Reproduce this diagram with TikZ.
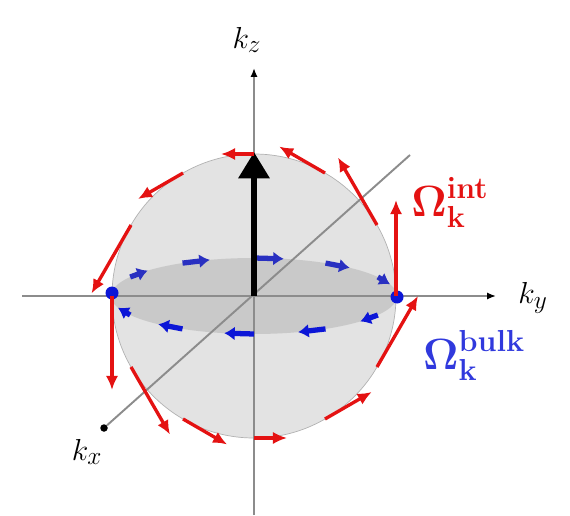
\documentclass[tikz,border=0pt]{standalone}
\usepackage{amsmath}
\usetikzlibrary{arrows.meta, calc}
\definecolor{omred}{RGB}{228,18,18}
\definecolor{omblue}{RGB}{12,22,215}

\begin{document}
\begin{tikzpicture}[x=0.2mm, y=-0.2mm, >=Latex,
    axis/.style={draw=gray!90, line width=1.1pt},
    axtip/.style={-{Latex[length=5pt,width=4pt,black]}},
    redvec/.style={->, omred, line width=1.9pt, >={Latex[length=8pt,width=7pt]}},
    bluevec/.style={->, omblue, line width=3pt, >={Latex[length=6pt,width=8pt]}},
    bdot/.style={circle, fill=omblue, inner sep=0pt, minimum size=2.6mm},
    kdot/.style={circle, fill=black, inner sep=0pt, minimum size=1.5mm},
    lab/.style={font=\fontsize{19}{22}\selectfont},
    omlab/.style={font=\fontsize{25}{30}\selectfont}]
    \useasboundingbox (0,0) rectangle (570,515);
    \coordinate (O) at (254,296);

    % sphere and equatorial disc
    \filldraw[fill=gray!22, draw=gray!60, line width=0.4pt] (O) circle[radius=28.4mm];
    \fill[gray!42] (O) ellipse[x radius=28.6mm, y radius=7.6mm];

    % axes
    \coordinate (kzbot) at (254,515);
    \coordinate (kztop) at (254,68);
    \coordinate (kyleft) at (22,296);
    \coordinate (kyright) at (496,296);
    \coordinate (kxback) at (410,155);
    \node[kdot] (kxfront) at (104,428) {};
    \draw[axis, axtip] (kzbot) -- (kztop);
    \draw[axis, axtip] (kyleft) -- (kyright);
    \draw[axis] (kxback) -- (kxfront);

    \node[lab] (kz) at (247,40) {$k_z$};
    \node[lab] (ky) at (533,298) {$k_y$};
    \node[lab] (kx) at (87,452) {$k_x$};

    % bulk texture on the equator
    \foreach \p in {150,120,90,60,30}
      \draw[bluevec, omblue!75!gray] ($(O)+({143*cos(\p)},{-38*sin(\p)})$) -- ($(O)+({143*cos(\p-12)},{-38*sin(\p-12)})$);
    \foreach \p in {210,240,270,300,330}
      \draw[bluevec] ($(O)+({143*cos(\p)},{-38*sin(\p)})$) -- ($(O)+({143*cos(\p-12)},{-38*sin(\p-12)})$);
    \node[bdot] (eqL) at (112,293) {};
    \node[bdot] (eqR) at (397,297) {};

    % pole vector
    \coordinate (pole) at (254,152);
    \draw[-{Triangle[length=15pt,width=17pt]}, line width=3.8pt] (O) -- (pole);

    % interface texture on the great circle
    \foreach \t/\len in {0/96,30/78,60/53,90/33,120/52,150/79,180/94,210/78,240/51,270/33,300/54,330/82}
      \draw[redvec] ($(O)+({142*cos(\t)},{-142*sin(\t)})$) -- ++({-\len*sin(\t)},{-\len*cos(\t)});

    \node[omlab, omred] (omint) at (450,202) {$\boldsymbol{\Omega}_{\mathbf{k}}^{\mathbf{int}}$};
    \node[omlab, omblue!85!white] (ombulk) at (474,355) {$\boldsymbol{\Omega}_{\mathbf{k}}^{\mathbf{bulk}}$};
\end{tikzpicture}
\end{document}
